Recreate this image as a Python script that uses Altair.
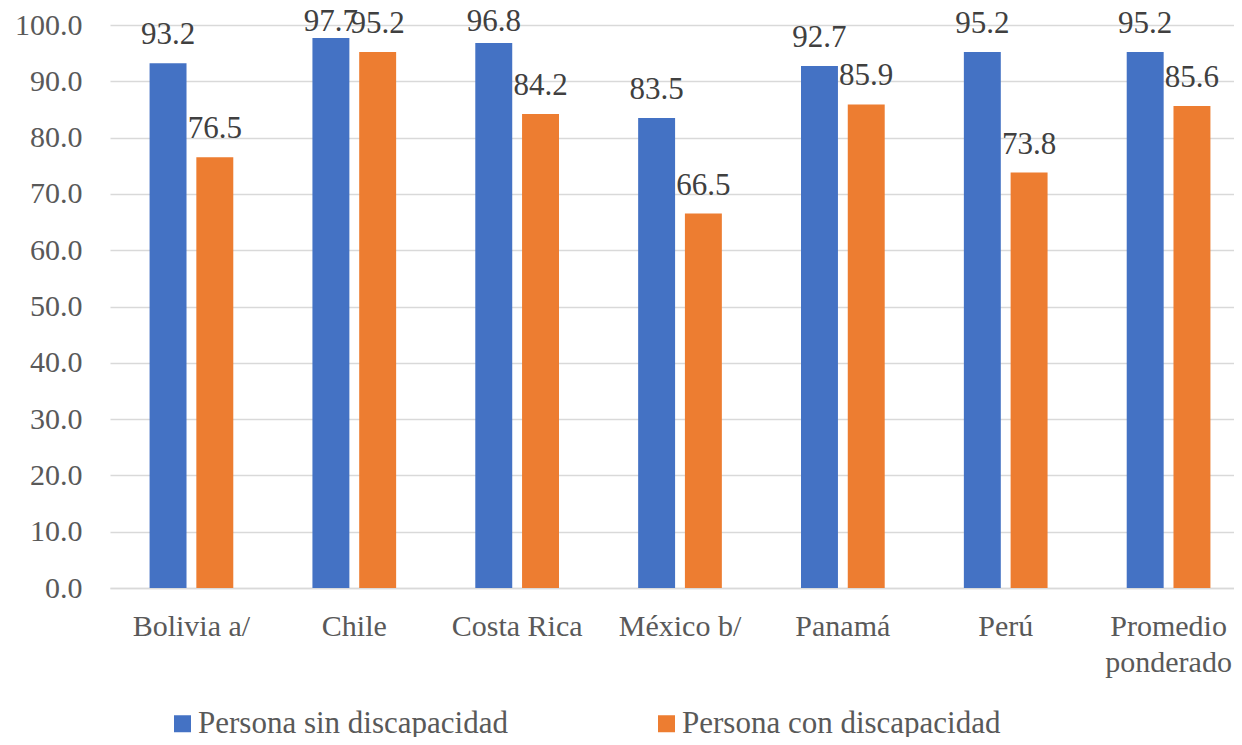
import altair as alt
import pandas as pd

categories = ["Bolivia a/", "Chile", "Costa Rica", "México b/", "Panamá", "Perú", "Promedio ponderado"]
sin_disc = [93.2, 97.7, 96.8, 83.5, 92.7, 95.2, 95.2]
con_disc = [76.5, 95.2, 84.2, 66.5, 85.9, 73.8, 85.6]
series = ["Persona sin discapacidad", "Persona con discapacidad"]
colors = ["#4472C4", "#ED7D31"]
y_ticks = [0, 10, 20, 30, 40, 50, 60, 70, 80, 90, 100]

rows = []
for c, a, b in zip(categories, sin_disc, con_disc):
    rows.append({"cat": c, "serie": series[0], "valor": a})
    rows.append({"cat": c, "serie": series[1], "valor": b})
df = pd.DataFrame(rows)

FONT = "Liberation Serif"
GRID = "#d9d9d9"
LABEL = "#595959"

x = alt.X(
    "cat:N",
    sort=categories,
    scale=alt.Scale(range=[0, 1140], paddingInner=0.486, paddingOuter=0.243),
    axis=alt.Axis(
        title=None, labelAngle=0, labelFont=FONT, labelFontSize=30, labelColor=LABEL,
        labelPadding=23, ticks=False, domainColor=GRID, domainWidth=1.5,
        labelLineHeight=36, labelLimit=0,
        labelExpr="datum.label == 'Promedio ponderado' ? ['Promedio', 'ponderado'] : datum.label",
    ),
)
xo = alt.XOffset("serie:N", sort=series, scale=alt.Scale(paddingInner=0.21, paddingOuter=0))
y = alt.Y(
    "valor:Q",
    scale=alt.Scale(domain=[0, 100], nice=False),
    axis=alt.Axis(
        values=y_ticks, format=".1f", title=None, labelFont=FONT, labelFontSize=30,
        labelColor=LABEL, labelPadding=28, ticks=False, domain=False,
        gridColor=GRID, gridWidth=1.5,
    ),
)

bars = alt.Chart(df).mark_bar().encode(
    x=x,
    xOffset=xo,
    y=y,
    color=alt.Color(
        "serie:N",
        sort=series,
        scale=alt.Scale(domain=series, range=colors),
        legend=alt.Legend(
            title=None, orient="none", legendX=57, legendY=683, direction="horizontal",
            symbolType="square", symbolSize=289, symbolStrokeWidth=0,
            labelFont=FONT, labelFontSize=31, labelColor=LABEL, labelLimit=0,
            columnPadding=143, labelOffset=0, padding=0,
        ),
    ),
)

# labels sit above the bars but are kept inside the chart area near the top
labels = alt.Chart(df).transform_calculate(
    pos="min(datum.valor, 95.5)"
).mark_text(
    baseline="alphabetic", dy=-19, fontSize=31, font=FONT, color="#404040"
).encode(
    x=x,
    xOffset=xo,
    y=alt.Y("pos:Q", scale=alt.Scale(domain=[0, 100], nice=False)),
    text=alt.Text("valor:Q", format=".1f"),
)

chart = alt.layer(bars, labels).properties(
    width=1124,
    height=563,
    autosize=alt.AutoSizeParams(type="none"),
    padding={"left": 102, "top": 17, "right": 0, "bottom": 149},
).configure_view(stroke=None)

chart.save("out.html", embed_options={"renderer": "svg", "actions": False})
